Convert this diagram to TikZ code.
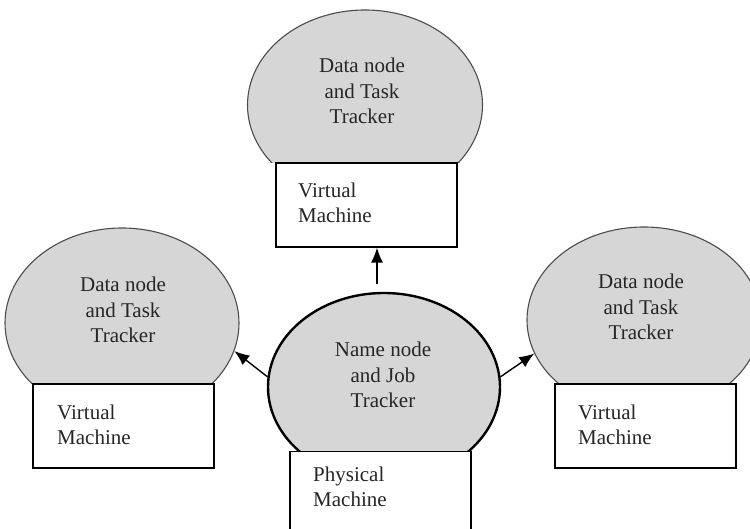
\documentclass[tikz,border=0pt]{standalone}
\usepackage{fontspec}
\setmainfont{Liberation Serif}
\newfontfamily\timesx{Liberation Serif}
\usetikzlibrary{shapes.geometric,arrows.meta}
\begin{document}
\begin{tikzpicture}[x=1pt,y=-1pt,
 dome/.style={ellipse, draw=black!70, line width=1.1pt, fill=black!16, inner sep=0pt},
 maindome/.style={dome, draw=black, line width=2.4pt},
 box/.style={rectangle, draw=black, line width=1.2pt, fill=white, inner sep=0pt, minimum width=181pt},
 lbl/.style={font=\timesx\fontsize{21}{25.5}\selectfont, align=center, inner sep=0pt, text=black!85},
 boxlbl/.style={font=\timesx\fontsize{21}{25}\selectfont, align=left, inner sep=0pt, anchor=west, text=black!85},
 arr/.style={-{Latex[length=15pt,width=12pt]}, line width=1.4pt}]
\useasboundingbox (0,0) rectangle (750,529);
\clip (0,0) rectangle (750,529);
% domes
\begin{scope}
  \clip (0,0) rectangle (750,163);
  \node[dome, minimum width=235pt, minimum height=190pt] (dt) at (365,105) {};
\end{scope}
\begin{scope}
  \clip (0,0) rectangle (750,384);
  \node[dome, minimum width=234pt, minimum height=190pt] (dl) at (122,323) {};
  \node[dome, minimum width=234pt, minimum height=186pt] (dr) at (644,320) {};
\end{scope}
\begin{scope}
  \clip (0,0) rectangle (750,451);
  \node[maindome, minimum width=232pt, minimum height=188pt] (nn) at (384,387) {};
\end{scope}
% boxes
\node[box, minimum height=84pt] (vt) at (366.5,205) {};
\node[box, minimum height=84pt] (vl) at (123.5,426) {};
\node[box, minimum height=84pt] (vr) at (645.5,426) {};
\node[box, minimum height=120pt, anchor=north] (pm) at (380.5,451) {};
% dome labels
\node[lbl] (tt) at (362,91) {Data node\\and Task\\Tracker};
\node[lbl] (tl) at (123,310) {Data node\\and Task\\Tracker};
\node[lbl] (tr) at (641,307) {Data node\\and Task\\Tracker};
\node[lbl] (tn) at (383,375) {Name node\\and Job\\Tracker};
% box labels
\node[boxlbl] (bt) at (298,203) {Virtual\\Machine};
\node[boxlbl] (bl) at (57,425) {Virtual\\Machine};
\node[boxlbl] (br) at (578,425) {Virtual\\Machine};
\node[boxlbl] (bp) at (313,487) {Physical\\Machine};
% arrows
\draw[arr] ([shift={(-7pt,8pt)}]nn.north) -- ([xshift=10.5pt]vt.south);
\draw[arr] (nn.175.6) -- (dl.-14.4);
\draw[arr] (nn.5.9) -- (dr.197.8);
\end{tikzpicture}
\end{document}
